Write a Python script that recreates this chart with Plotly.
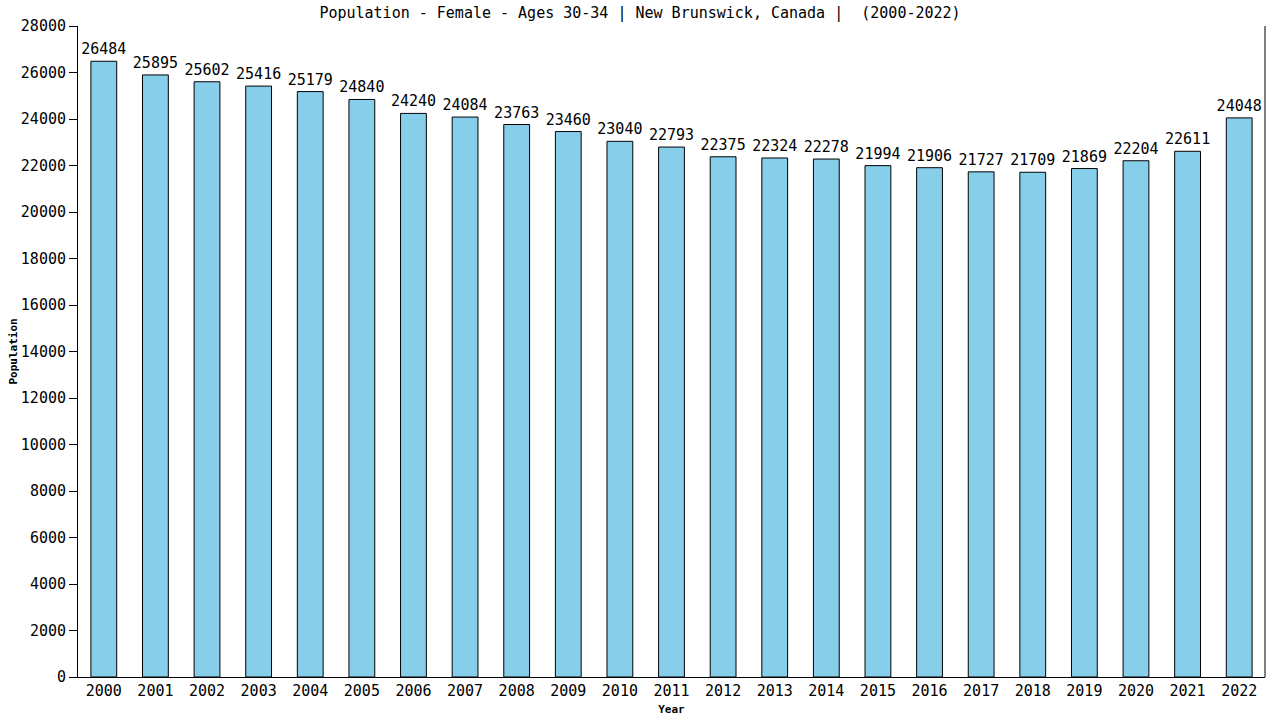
import plotly.graph_objects as go

years = [str(y) for y in range(2000, 2023)]
population = [26484, 25895, 25602, 25416, 25179, 24840, 24240, 24084, 23763, 23460,
              23040, 22793, 22375, 22324, 22278, 21994, 21906, 21727, 21709, 21869,
              22204, 22611, 24048]
y_ticks = list(range(0, 28001, 2000))

FONT = "DejaVu Sans Mono"

fig = go.Figure()
fig.add_trace(go.Bar(
    x=years, y=population,
    marker=dict(color="#87CEEB", line=dict(color="black", width=1)),
    width=0.5,
    text=[str(v) for v in population],
    textposition="outside",
    constraintext="none",
    textfont=dict(family=FONT, size=15, color="black"),
    cliponaxis=False,
))

fig.update_layout(
    width=1280, height=720,
    paper_bgcolor="white", plot_bgcolor="white",
    margin=dict(l=78, r=15, t=26, b=43, autoexpand=False),
    showlegend=False,
    title=dict(text="Population - Female - Ages 30-34 | New Brunswick, Canada |  (2000-2022)",
               x=0.5, xanchor="center", y=1 - 13 / 720, yanchor="middle",
               font=dict(family=FONT, size=15, color="black")),
    font=dict(family=FONT, color="black"),
    xaxis=dict(
        type="category", range=[-0.5, 22.5], automargin=False,
        showline=True, linecolor="black", linewidth=1,
        ticks="", showgrid=False,
        tickfont=dict(family=FONT, size=15, color="black"),
        title=dict(text="<b>Year</b>", font=dict(family=FONT, size=11, color="black"), standoff=6),
    ),
    yaxis=dict(
        range=[0, 28000], tickvals=y_ticks, ticktext=[str(v) for v in y_ticks],
        automargin=False,
        showline=True, linecolor="black", linewidth=1,
        ticks="outside", ticklen=8, tickcolor="black",
        showgrid=False, zeroline=False,
        tickfont=dict(family=FONT, size=15, color="black"),
        title=dict(text="<b>Population</b>", font=dict(family=FONT, size=11, color="black"), standoff=0),
    ),
    shapes=[dict(type="line", xref="paper", yref="paper", x0=1, x1=1, y0=0, y1=1,
                 line=dict(color="black", width=1))],
)

fig.write_html("out.html", config={"displayModeBar": False},
               post_script="document.body.style.margin='0';")
